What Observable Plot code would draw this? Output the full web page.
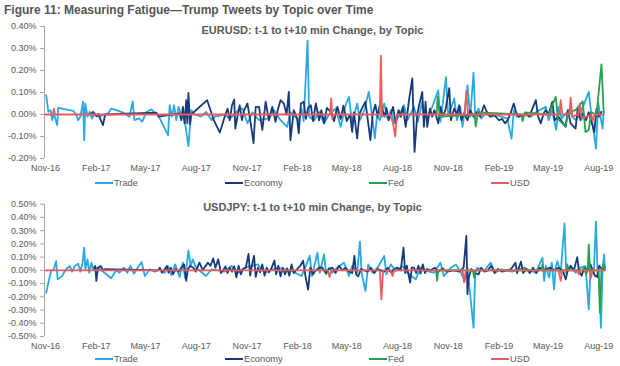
<!DOCTYPE html>
<html><head><meta charset="utf-8">
<script src="https://cdn.jsdelivr.net/npm/d3@7"></script>
<script src="https://cdn.jsdelivr.net/npm/@observablehq/plot@0.6"></script>
<style>
body{margin:0;background:#fff;font-family:"Liberation Sans",Arial,sans-serif;}
#wrap{position:relative;width:620px;height:366px;overflow:hidden;background:#fff;}
.mtitle{position:absolute;left:4px;top:2.5px;font-weight:bold;font-size:12px;line-height:14px;color:#555;white-space:nowrap;z-index:2;}
.ptitle{position:absolute;left:0;width:625px;text-align:center;font-weight:bold;font-size:11px;line-height:13px;color:#595959;z-index:2;}
.chart{position:absolute;left:0;z-index:1;}
.legend{position:absolute;left:0;width:620px;height:12px;font-size:9.3px;line-height:12px;color:#595959;z-index:2;}
.legend span{position:absolute;top:0;white-space:nowrap;}
.legend i{position:absolute;top:5px;height:2px;width:18px;}
</style></head>
<body><div id="wrap"></div>
<script>
const topics = ["Trade","Economy","Fed","USD"];
const colors = ["#29A9E1","#173A78","#26A24C","#F05A5B"];
const legendX = [95,225,369,491];
const xTickDates = ["2016-11-01","2017-02-01","2017-05-01","2017-08-01","2017-11-01","2018-02-01","2018-05-01","2018-08-01","2018-11-01","2019-02-01","2019-05-01","2019-08-01"];
const eurTicks = [-0.2,-0.1,0,0.1,0.2,0.3,0.4];
const jpyTicks = [-0.5,-0.4,-0.3,-0.2,-0.1,0,0.1,0.2,0.3,0.4,0.5];
const mainTitle = "Figure 11: Measuring Fatigue\u2014Trump Tweets by Topic over Time";
const eurTitle = "EURUSD: t-1 to t+10 min Change, by Topic";
const jpyTitle = "USDJPY: t-1 to t+10 min Change, by Topic";
const baseDate = "2016-11-01";
const domainDates = ["2016-10-30","2019-08-26"];

// [days since 1 Nov 2016, % change]
const eurTrade = [[1,0.088],[5,0.012],[9,0.02],[12,-0.026],[15,0.005],[21,-0.048],[23,0.03],[50,0.017],[56,-0.003],[59,-0.026],[63,-0.01],[68,0.058],[70,-0.117],[72,0.05],[76,-0.01],[80,0.012],[84,-0.018],[89,0.005],[95,-0.01],[104,-0.003],[113,0.005],[119,0.027],[128,0.02],[137,0.012],[143,0.005],[152,-0.01],[158,0.06],[161,-0.026],[170,-0.018],[175,-0.033],[183,0.012],[192,0.023],[199,0.005],[204,-0.003],[222,-0.094],[225,0.042],[229,-0.01],[233,0.042],[237,-0.026],[241,0.035],[246,-0.003],[252,-0.026],[259,-0.144],[264,0.02],[270,0.0],[282,-0.01],[291,0.012],[301,-0.026],[307,-0.01],[325,0.0],[334,-0.02],[352,0.027],[357,0.027],[366,-0.04],[375,0.01],[387,-0.026],[405,-0.018],[414,0.02],[426,-0.026],[438,-0.056],[444,0.01],[459,-0.026],[464,0.027],[468,-0.03],[475,0.336],[478,-0.01],[487,-0.026],[496,0.012],[505,-0.04],[514,0.0],[526,0.027],[535,-0.056],[544,0.042],[550,0.08],[556,-0.04],[565,0.05],[570,-0.026],[578,0.02],[586,0.103],[590,0.035],[597,-0.109],[601,-0.004],[606,-0.026],[614,0.05],[620,-0.018],[626,0.02],[632,-0.04],[640,-0.01],[650,0.042],[656,-0.026],[668,0.035],[675,-0.033],[683,0.058],[688,-0.01],[692,-0.01],[701,0.035],[712,0.11],[716,-0.033],[721,0.065],[726,0.17],[730,-0.003],[738,0.05],[741,0.073],[746,-0.026],[752,0.035],[756,-0.056],[760,0.02],[765,0.133],[770,-0.01],[776,0.19],[779,-0.01],[785,0.027],[790,-0.018],[798,0.005],[810,-0.01],[818,-0.003],[826,-0.01],[837,-0.018],[845,-0.11],[849,0.02],[854,-0.01],[871,-0.003],[880,-0.01],[890,0.012],[907,0.035],[912,-0.026],[918,0.02],[926,-0.07],[930,0.035],[936,-0.018],[949,0.02],[955,-0.01],[962,-0.026],[970,0.005],[985,0.103],[990,-0.01],[998,-0.155],[1002,0.053],[1010,-0.064],[1012,0.012]];
const eurEconomy = [[83,0.005],[86,0.012],[92,-0.008],[96,0.003],[100,-0.026],[104,-0.048],[108,0.0],[201,0.008],[205,-0.01],[243,0.005],[246,-0.026],[249,0.035],[252,-0.04],[255,0.065],[257,-0.04],[259,0.098],[262,-0.044],[264,0.0],[293,0.065],[298,0.027],[305,-0.026],[316,-0.082],[325,-0.008],[330,0.027],[334,-0.026],[338,0.042],[342,0.068],[344,-0.064],[348,-0.008],[352,0.042],[356,-0.026],[360,0.02],[366,0.05],[372,-0.04],[377,-0.13],[381,0.035],[387,0.035],[393,-0.07],[399,0.058],[405,-0.026],[411,0.035],[417,-0.033],[421,0.02],[426,0.065],[432,0.05],[437,0.0],[441,0.103],[444,-0.117],[450,0.02],[456,-0.018],[459,-0.086],[463,0.05],[468,0.058],[472,-0.02],[476,0.03],[481,0.042],[485,-0.03],[490,0.05],[496,-0.026],[500,0.02],[505,-0.04],[510,0.03],[517,0.012],[523,-0.03],[529,0.035],[535,-0.02],[540,0.04],[546,-0.03],[552,0.0],[556,-0.079],[559,0.01],[565,-0.109],[569,0.0],[574,0.03],[580,0.058],[584,-0.02],[589,-0.117],[593,0.0],[598,0.045],[602,-0.01],[607,0.058],[611,0.02],[615,-0.01],[618,0.03],[622,-0.026],[626,0.0],[630,0.035],[635,-0.04],[640,0.02],[644,-0.01],[648,0.035],[653,-0.056],[659,0.065],[665,0.164],[669,-0.17],[674,0.0],[678,0.05],[683,0.103],[686,-0.056],[689,0.058],[692,-0.056],[697,0.027],[701,-0.01],[705,0.02],[712,-0.04],[716,0.035],[720,-0.01],[725,0.02],[732,0.12],[735,-0.026],[741,0.027],[746,0.0],[750,0.042],[754,-0.026],[759,0.005],[765,-0.026],[770,0.02],[776,-0.01],[782,0.01],[788,-0.01],[795,0.042],[800,0.012],[806,-0.01],[813,0.0],[822,-0.026],[828,-0.02],[833,-0.04],[838,-0.026],[843,0.005],[849,0.05],[853,0.012],[858,-0.01],[867,0.0],[872,0.005],[877,-0.01],[889,0.065],[893,-0.01],[898,-0.04],[903,0.005],[907,0.02],[912,0.0],[919,0.058],[923,-0.026],[930,-0.01],[943,-0.056],[947,0.02],[952,-0.04],[961,-0.064],[965,0.027],[970,-0.026],[974,0.005],[980,-0.026],[985,0.01],[995,-0.08],[999,0.027],[1003,-0.01],[1008,0.012]];
const eurFed = [[709,0],[711,0.08],[715,-0.01],[778,0],[780,-0.055],[784,0.01],[863,0],[865,-0.03],[869,0.01],[912,0],[925,0.08],[929,-0.02],[943,-0.055],[947,0.01],[961,0.02],[974,0.06],[979,-0.08],[985,-0.07],[989,0.01],[999,0],[1008,0.228],[1012,0.01]];
const eurUsd = [[0,0],[13,0],[15,0.027],[17,0],[516,0],[518,0.073],[520,-0.02],[522,0],[606,0],[608,0.267],[610,-0.01],[625,0],[630,-0.04],[634,-0.1],[637,0],[760,0],[763,0.11],[766,0],[932,0],[934,0.065],[937,0],[950,0],[952,0.077],[955,-0.01],[966,0],[969,0.05],[972,-0.02],[989,0],[992,-0.03],[995,0],[1012,0]];

const jpyTrade = [[1,-0.17],[5,-0.093],[10,-0.005],[15,0.008],[19,0.07],[22,-0.068],[30,-0.043],[37,0.008],[44,0.033],[48,-0.01],[53,0.033],[59,0.05],[63,-0.01],[67,0.058],[70,0.172],[72,0.008],[76,0.083],[79,-0.018],[83,0.058],[86,0.008],[95,0.02],[107,-0.018],[119,-0.06],[128,0.0],[134,-0.018],[142,0.02],[148,-0.018],[154,0.033],[160,-0.025],[167,0.02],[174,0.063],[180,-0.043],[189,0.008],[198,-0.01],[207,0.008],[216,-0.018],[222,0.033],[228,-0.035],[235,0.045],[243,-0.05],[249,0.058],[253,-0.06],[259,0.15],[263,0.033],[267,0.083],[273,0.02],[291,-0.043],[301,0.008],[313,0.0],[325,-0.01],[337,0.033],[349,-0.018],[361,0.02],[385,0.045],[397,-0.018],[421,0.02],[446,-0.005],[464,-0.043],[473,0.045],[479,0.11],[483,-0.043],[493,0.134],[497,-0.018],[505,0.12],[509,-0.03],[514,0.02],[520,-0.018],[529,0.02],[541,0.058],[550,-0.043],[556,0.033],[565,-0.018],[570,0.217],[573,-0.018],[580,-0.157],[585,0.045],[593,-0.018],[602,0.02],[614,0.109],[618,-0.03],[626,0.045],[635,-0.005],[647,0.033],[656,-0.018],[671,-0.068],[680,0.02],[692,-0.005],[704,-0.018],[716,0.058],[722,-0.043],[735,0.02],[744,0.045],[753,-0.018],[760,-0.08],[765,0.02],[776,-0.434],[779,-0.018],[783,0.02],[795,-0.005],[807,0.058],[815,-0.018],[826,0.008],[846,-0.01],[868,0.02],[880,-0.005],[889,-0.018],[901,0.096],[904,-0.08],[907,0.033],[913,-0.055],[918,0.058],[922,-0.144],[925,0.02],[928,0.07],[934,-0.018],[941,0.354],[944,-0.018],[952,0.02],[961,-0.018],[970,0.02],[979,0.033],[985,-0.295],[988,0.008],[994,-0.018],[998,0.369],[1001,-0.018],[1004,-0.08],[1007,-0.434],[1010,0.02],[1013,0.12],[1014,0.0]];
const jpyEconomy = [[88,0.02],[90,0.033],[92,-0.08],[95,0.02],[100,0.033],[104,0.0],[108,0.01],[204,0.0],[207,0.02],[211,-0.018],[216,0.008],[220,0.033],[223,-0.018],[227,0.02],[231,-0.03],[236,0.01],[241,-0.01],[246,0.02],[251,0.045],[255,-0.08],[258,0.008],[262,0.033],[268,0.02],[272,-0.01],[279,0.058],[285,0.0],[294,0.058],[299,0.035],[304,0.09],[308,0.02],[313,0.083],[318,-0.02],[322,0.0],[326,0.03],[330,-0.02],[334,0.02],[338,-0.01],[342,0.03],[346,-0.053],[350,0.035],[354,-0.03],[358,0.01],[363,0.02],[368,0.124],[371,-0.04],[374,0.035],[378,0.11],[381,-0.05],[385,0.02],[389,-0.015],[393,0.045],[397,-0.04],[401,0.02],[405,-0.015],[410,0.02],[415,0.073],[418,-0.03],[422,0.035],[426,-0.045],[430,0.02],[434,-0.03],[438,0.015],[442,-0.04],[446,0.045],[450,-0.02],[456,0.01],[462,0.035],[467,0.073],[471,-0.04],[476,-0.146],[480,0.02],[485,-0.03],[490,0.0],[496,0.02],[502,0.02],[508,-0.02],[514,0.01],[520,0.02],[526,-0.02],[532,0.035],[538,0.0],[544,0.02],[550,-0.01],[556,-0.02],[560,0.11],[563,-0.03],[567,-0.045],[572,0.01],[578,0.0],[584,-0.01],[590,0.02],[596,-0.02],[602,0.01],[608,0.0],[614,-0.01],[620,0.02],[626,-0.015],[632,0.01],[638,0.02],[644,0.0],[649,0.172],[652,-0.02],[655,0.035],[661,-0.093],[664,0.02],[668,0.02],[672,-0.02],[676,0.035],[680,-0.025],[684,0.045],[688,-0.02],[692,0.01],[698,0.0],[706,0.02],[712,-0.01],[720,0.015],[728,-0.01],[740,0.0],[750,-0.01],[758,0.02],[763,0.26],[765,-0.18],[767,-0.06],[772,0.01],[778,-0.02],[785,-0.03],[790,0.02],[796,-0.01],[802,0.0],[808,0.035],[814,-0.02],[820,0.01],[828,-0.01],[836,0.0],[844,0.01],[852,0.058],[855,-0.02],[862,0.066],[866,-0.02],[872,0.01],[878,-0.02],[884,0.02],[890,-0.02],[896,0.02],[902,0.0],[908,0.01],[915,0.02],[922,0.0],[930,0.02],[938,0.0],[943,-0.068],[947,0.0],[952,0.035],[958,0.0],[964,0.1],[967,0.0],[972,-0.04],[977,0.02],[983,0.0],[988,0.045],[992,0.0],[996,-0.04],[1000,-0.05],[1004,0.035],[1010,0.0],[1014,0.02]];
const jpyFed = [[708,0],[710,-0.08],[712,0],[775,0],[777,-0.055],[779,0],[866,0],[868,0.02],[870,0],[899,0],[901,0.045],[903,0],[944,0],[946,0.045],[948,0],[974,0],[976,0.02],[980,-0.03],[983,0],[985,0.197],[987,0],[1003,0],[1005,-0.32],[1008,0],[1011,0.02],[1013,0.045],[1014,0.01]];
const jpyUsd = [[0,0],[512,0],[515,-0.05],[518,0],[606,0],[609,-0.22],[612,0],[626,0],[629,-0.043],[632,0],[756,0],[759,-0.09],[762,0],[930,0],[934,-0.08],[937,0],[964,0],[967,-0.03],[970,0],[986,0],[989,-0.056],[992,0],[1014,0]];

const wrap = document.getElementById("wrap");
const base = new Date(baseDate + "T00:00:00Z");
const d0 = new Date(domainDates[0] + "T00:00:00Z");
const d1 = new Date(domainDates[1] + "T00:00:00Z");
const xTicks = xTickDates.map(s => new Date(s + "T00:00:00Z"));
const rows = pairs => pairs.map(([d, v]) => ({date: d3.utcDay.offset(base, d), v}));

function addDiv(cls, text, top) {
  const el = document.createElement("div");
  el.className = cls; el.textContent = text; el.style.top = top + "px";
  wrap.appendChild(el); return el;
}

function panel(series, ticks, top, height, mt, mb) {
  const svg = Plot.plot({
    width: 620, height, marginLeft: 44, marginRight: 8, marginTop: mt, marginBottom: mb,
    style: {fontFamily: "'Liberation Sans', Arial, sans-serif", background: "transparent", overflow: "visible"},
    x: {type: "utc", domain: [d0, d1]},
    y: {domain: [ticks[0], ticks[ticks.length - 1]]},
    marks: [
      Plot.axisY({ticks, tickFormat: d => d.toFixed(2) + "%", tickSize: 4, tickPadding: 4, stroke: "#A6A6A6", fill: "#595959", fontSize: 9, label: null}),
      Plot.axisX({ticks: xTicks, tickFormat: d3.utcFormat("%b-%y"), tickSize: 0, tickPadding: 6, fill: "#595959", fontSize: 9, label: null}),
      Plot.ruleX([d0], {y1: ticks[0], y2: ticks[ticks.length - 1], stroke: "#A6A6A6"}),
      ...series.map((s, i) => Plot.line(rows(s), {x: "date", y: "v", stroke: colors[i], strokeWidth: 1.8}))
    ]
  });
  const holder = document.createElement("div");
  holder.className = "chart"; holder.style.top = top + "px";
  holder.appendChild(svg); wrap.appendChild(holder);
}

function legend(top) {
  const lg = document.createElement("div");
  lg.className = "legend"; lg.style.top = top + "px";
  topics.forEach((t, i) => {
    const line = document.createElement("i");
    line.style.left = legendX[i] + "px"; line.style.background = colors[i];
    const lab = document.createElement("span");
    lab.style.left = (legendX[i] + 19) + "px"; lab.textContent = t;
    lg.appendChild(line); lg.appendChild(lab);
  });
  wrap.appendChild(lg);
}

addDiv("mtitle", mainTitle, 2.5);
panel([eurTrade, eurEconomy, eurFed, eurUsd], eurTicks, 14, 165, 12, 21);
addDiv("ptitle", eurTitle, 23.5);
legend(177);
panel([jpyTrade, jpyEconomy, jpyFed, jpyUsd], jpyTicks, 190, 166, 13.7, 20);
addDiv("ptitle", jpyTitle, 201.2);
legend(353.3);
</script></body></html>
